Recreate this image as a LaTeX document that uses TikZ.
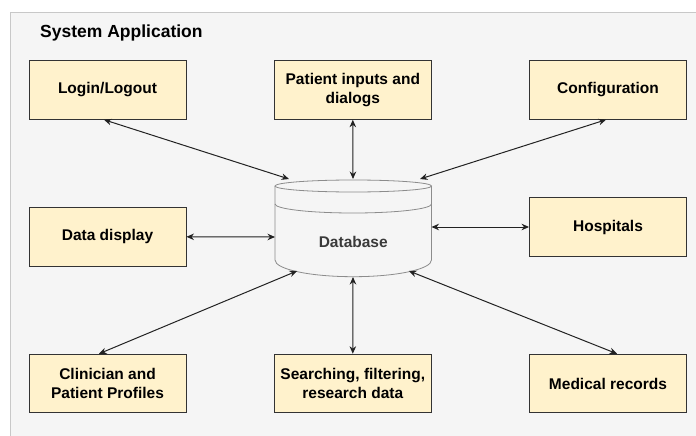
\documentclass[tikz,border=0pt]{standalone}
\usepackage{fontspec}
\setmainfont{Liberation Sans}
\usetikzlibrary{arrows.meta}
\definecolor{boxfill}{HTML}{FFF2CC}
\definecolor{boxline}{HTML}{333333}
\definecolor{panel}{HTML}{F5F5F5}
\definecolor{panelline}{HTML}{C8C8C8}
\definecolor{dbline}{HTML}{8C8C8C}
\definecolor{dbtext}{HTML}{3A3A3A}
\definecolor{linecol}{HTML}{222222}
\begin{document}
\begin{tikzpicture}[x=1pt,y=-1pt,
  box/.style={draw=boxline, fill=boxfill, line width=0.9pt, minimum width=157pt, minimum height=58.6pt,
    font=\bfseries\fontsize{15.5}{18.5}\selectfont, align=center, inner sep=0pt},
  link/.style={{Stealth[length=7.5pt,width=6.5pt]}-{Stealth[length=7.5pt,width=6.5pt]}, line width=1pt, draw=linecol},
  dbstroke/.style={draw=dbline, line width=0.8pt}]
\useasboundingbox (0,0) rectangle (696,436);
\fill[white] (0,0) rectangle (696,436);
\fill[panel] (10,12) rectangle (696,436);
\draw[panelline, line width=0.8pt] (10,436) -- (10,12) -- (696,12);
\node[anchor=base west, inner sep=0pt, font=\bfseries\fontsize{17.5}{20}\selectfont] (title) at (40,37.7) {System Application};
% boxes
\node[box] (login) at (107.5,90) {Login/Logout};
\node[box] (patient) at (352.8,90) {Patient inputs and\\dialogs};
\node[box] (config) at (608,90) {Configuration};
\node[box] (display) at (107.5,236.8) {Data display};
\node[box] (hosp) at (608,227) {Hospitals};
\node[box] (clin) at (107.5,383.5) {Clinician and\\Patient Profiles};
\node[box] (search) at (352.8,383.5) {Searching, filtering,\\research data};
\node[box] (med) at (608,383.5) {Medical records};
% database cylinder
\fill[panel] (275,186) -- (275,260) arc[start angle=180, end angle=360, x radius=78.25, y radius=-16.7] -- (431.5,186) arc[start angle=0, end angle=180, x radius=78.25, y radius=-6] -- cycle;
\draw[dbstroke] (275,186) -- (275,260) arc[start angle=180, end angle=360, x radius=78.25, y radius=-16.7] -- (431.5,186);
\draw[dbstroke] (353.25,186) ellipse[x radius=78.25, y radius=6];
\draw[dbstroke] (275,204) arc[start angle=180, end angle=360, x radius=78.25, y radius=-9];
\node[font=\bfseries\fontsize{15.5}{18}\selectfont, text=dbtext] (db) at (353.25,242) {Database};
\coordinate (dbNW) at (289,179);
\coordinate (dbN) at (353,179);
\coordinate (dbNE) at (420,179);
\coordinate (dbW) at (275,237);
\coordinate (dbE) at (431.5,227);
\coordinate (dbSW) at (297,271);
\coordinate (dbS) at (353,277);
\coordinate (dbSE) at (409,271);
% connectors
\draw[link] ([xshift=-3.5pt]login.south) -- (dbNW);
\draw[link] (patient.south) -- (dbN);
\draw[link] ([xshift=-2pt]config.south) -- (dbNE);
\draw[link] (display.east) -- (dbW);
\draw[link] (hosp.west) -- (dbE);
\draw[link] ([xshift=-8.5pt]clin.north) -- (dbSW);
\draw[link] (search.north) -- (dbS);
\draw[link] ([xshift=9pt]med.north) -- (dbSE);
\end{tikzpicture}
\end{document}
